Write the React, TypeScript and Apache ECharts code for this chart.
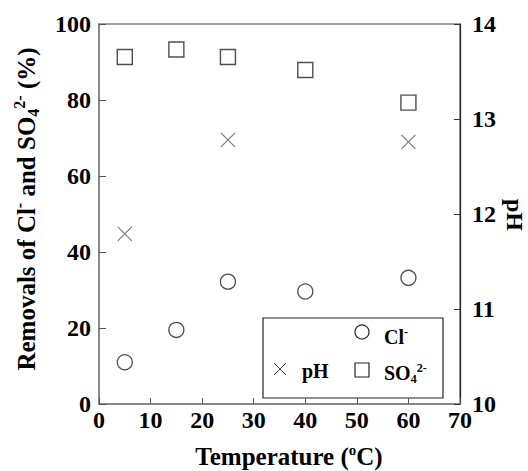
import React, { useEffect, useRef } from "react";
import * as echarts from "echarts";

const temperatures = [5, 15, 25, 40, 60];
const clRemoval = [11.0, 19.5, 32.2, 29.6, 33.2];
const so4Removal = [91.3, 93.3, 91.3, 87.9, 79.3];
const phTemps = [5, 25, 60];
const phValues = [11.79, 12.78, 12.76];

const FONT = "Liberation Serif";
const CROSS = "path://M0,0L10,10M10,0L0,10";

const txt = (size: number) => ({ fontFamily: FONT, fontWeight: "bold" as const, fontSize: size, fill: "#000" });

export default function App() {
  const ref = useRef<HTMLDivElement>(null);
  useEffect(() => {
    if (!ref.current) return;
    const chart = echarts.init(ref.current, undefined, { renderer: "svg" });
    chart.setOption({
      animation: false,
      backgroundColor: "#fff",
      grid: { left: 99, right: 68, top: 24, bottom: 67, show: true, borderColor: "#808080", borderWidth: 1.5 },
      xAxis: {
        type: "value", min: 0, max: 70, interval: 10,
        axisLine: { lineStyle: { color: "#808080", width: 1.5 } },
        axisTick: { inside: true, length: 6, lineStyle: { color: "#555" } },
        splitLine: { show: false },
        axisLabel: { color: "#000", fontSize: 24, fontFamily: FONT, fontWeight: "bold", margin: 4 },
      },
      yAxis: [
        {
          type: "value", min: 0, max: 100, interval: 20,
          axisLine: { show: true, lineStyle: { color: "#808080", width: 1.5 } },
          axisTick: { show: true, inside: true, length: 7, lineStyle: { color: "#555" } },
          splitLine: { show: false },
          axisLabel: { color: "#000", fontSize: 24, fontFamily: FONT, fontWeight: "bold", margin: 8 },
        },
        {
          type: "value", min: 10, max: 14, interval: 1, position: "right",
          axisLine: { show: true, lineStyle: { color: "#222", width: 1.2 } },
          axisTick: { show: true, inside: true, length: 6, lineStyle: { color: "#333" } },
          splitLine: { show: false },
          axisLabel: { color: "#000", fontSize: 24, fontFamily: FONT, fontWeight: "bold", margin: 12 },
        },
      ],
      series: [
        {
          name: "Cl-", type: "scatter", symbol: "circle", symbolSize: 15,
          itemStyle: { color: "rgba(0,0,0,0)", borderColor: "#222", borderWidth: 1.3 },
          data: temperatures.map((t, i) => [t, clRemoval[i]]),
        },
        {
          name: "SO4", type: "scatter", symbol: "rect", symbolSize: 15,
          itemStyle: { color: "rgba(0,0,0,0)", borderColor: "#222", borderWidth: 1.4 },
          data: temperatures.map((t, i) => [t, so4Removal[i]]),
        },
        {
          name: "pH", type: "scatter", yAxisIndex: 1, symbol: CROSS, symbolSize: 14,
          itemStyle: { color: "rgba(0,0,0,0)", borderColor: "#555", borderWidth: 1.1 },
          data: phTemps.map((t, i) => [t, phValues[i]]),
        },
      ],
      graphic: [
        {
          type: "text", x: 26, y: 209, rotation: Math.PI / 2,
          style: {
            text: "Removals of Cl{sup|-} and SO{sub|4}{sup|2-} (%)",
            ...txt(25), align: "center", verticalAlign: "middle",
            rich: {
              sup: { ...txt(16), verticalAlign: "top", padding: [0, 0, 14, 0] },
              sub: { ...txt(16), verticalAlign: "bottom", padding: [12, 0, 0, 0] },
            },
          },
        },
        {
          type: "text", x: 515, y: 215, rotation: -Math.PI / 2,
          style: { text: "pH", ...txt(24), align: "center", verticalAlign: "middle" },
        },
        {
          type: "text", x: 289, y: 456,
          style: {
            text: "Temperature ({sup|o}C)", ...txt(25), align: "center", verticalAlign: "middle",
            rich: { sup: { ...txt(15), verticalAlign: "top", padding: [0, 0, 12, 0] } },
          },
        },
        {
          type: "rect", shape: { x: 263, y: 318, width: 180, height: 80 },
          style: { fill: "#fff", stroke: "#222", lineWidth: 1.2 },
        },
        { type: "circle", shape: { cx: 362, cy: 332, r: 7 }, style: { fill: "none", stroke: "#222", lineWidth: 1.2 } },
        { type: "rect", shape: { x: 355, y: 363, width: 14, height: 14 }, style: { fill: "none", stroke: "#222", lineWidth: 1.2 } },
        { type: "line", shape: { x1: 274, y1: 363, x2: 286, y2: 375 }, style: { stroke: "#444", lineWidth: 1 } },
        { type: "line", shape: { x1: 286, y1: 363, x2: 274, y2: 375 }, style: { stroke: "#444", lineWidth: 1 } },
        {
          type: "text", x: 384, y: 337,
          style: {
            text: "Cl{sup|-}", ...txt(20), verticalAlign: "middle",
            rich: { sup: { ...txt(12), verticalAlign: "top", padding: [0, 0, 10, 0] } },
          },
        },
        {
          type: "text", x: 302, y: 371,
          style: { text: "pH", ...txt(20), verticalAlign: "middle" },
        },
        {
          type: "text", x: 384, y: 373,
          style: {
            text: "SO{sub|4}{sup|2-}", ...txt(20), verticalAlign: "middle",
            rich: {
              sup: { ...txt(12), verticalAlign: "top", padding: [0, 0, 11, 0] },
              sub: { ...txt(12), verticalAlign: "bottom", padding: [11, 0, 0, 0] },
            },
          },
        },
      ],
    });
    return () => chart.dispose();
  }, []);
  return <div ref={ref} style={{ width: 528, height: 471, position: "absolute", left: 0, top: 0 }} />;
}
